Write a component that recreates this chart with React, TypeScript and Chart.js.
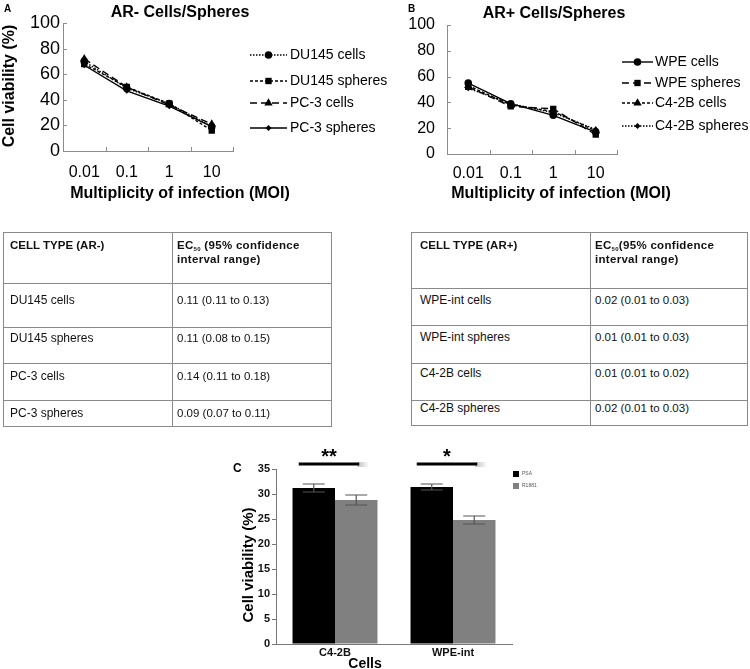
import React, { useEffect, useRef } from 'react';
import { Chart, registerables } from 'chart.js';

Chart.register(...registerables);

const FONT = '"Liberation Sans", Arial, Helvetica, sans-serif';

// ---------- DATA ----------
const moiLabels = ['0.01', '0.1', '1', '10'];

const arNegNames = ['DU145 cells', 'DU145 spheres', 'PC-3 cells', 'PC-3 spheres'];
const du145Cells = [70, 49, 37, 19];
const du145Spheres = [68, 50, 37, 16];
const pc3Cells = [72, 50, 36, 21];
const pc3Spheres = [67, 47, 35, 19];

const arPosNames = ['WPE cells', 'WPE spheres', 'C4-2B cells', 'C4-2B spheres'];
const wpeCells = [55, 39, 30, 17];
const wpeSpheres = [52, 37, 35, 15];
const c42bCells = [53, 38, 33, 18];
const c42bSpheres = [51, 39, 32, 19];

const negTypes = ['DU145 cells', 'DU145 spheres', 'PC-3 cells', 'PC-3 spheres'];
const negEC50 = ['0.11 (0.11 to 0.13)', '0.11 (0.08 to 0.15)', '0.14 (0.11 to 0.18)', '0.09 (0.07 to 0.11)'];
const posTypes = ['WPE-int cells', 'WPE-int spheres', 'C4-2B cells', 'C4-2B spheres'];
const posEC50 = ['0.02 (0.01 to 0.03)', '0.01 (0.01 to 0.03)', '0.01 (0.01 to 0.02)', '0.02 (0.01 to 0.03)'];

const barCategories = ['C4-2B', 'WPE-int'];
const psaValues = [31.2, 31.4];
const psaErrors = [0.8, 0.6];
const r1881Values = [28.8, 24.8];
const r1881Errors = [1.0, 0.8];
const significance = ['**', '*'];

// ---------- helpers ----------
function drawMarker(ctx: CanvasRenderingContext2D, style: string, x: number, y: number, r: number) {
  ctx.beginPath();
  if (style === 'circle') {
    ctx.arc(x, y, r, 0, Math.PI * 2);
  } else if (style === 'rect') {
    const s = r * Math.SQRT1_2;
    ctx.rect(x - s, y - s, 2 * s, 2 * s);
  } else if (style === 'triangle') {
    let a = 0;
    ctx.moveTo(x + Math.sin(a) * r, y - Math.cos(a) * r);
    a += (Math.PI * 2) / 3;
    ctx.lineTo(x + Math.sin(a) * r, y - Math.cos(a) * r);
    a += (Math.PI * 2) / 3;
    ctx.lineTo(x + Math.sin(a) * r, y - Math.cos(a) * r);
    ctx.closePath();
  } else {
    ctx.moveTo(x, y - r);
    ctx.lineTo(x + r, y);
    ctx.lineTo(x, y + r);
    ctx.lineTo(x - r, y);
    ctx.closePath();
  }
  ctx.fillStyle = '#000';
  ctx.fill();
}

const innerTicksPlugin = {
  id: 'innerTicks',
  afterDraw(chart: any) {
    const { ctx, chartArea: a, scales } = chart;
    const x = scales.x;
    const y = scales.y;
    ctx.save();
    ctx.strokeStyle = '#8c8c8c';
    ctx.lineWidth = 1;
    ctx.beginPath();
    y.ticks.forEach((_t: any, i: number) => {
      const py = Math.round(y.getPixelForTick(i)) + 0.5;
      ctx.moveTo(a.left, py);
      ctx.lineTo(a.left + 4, py);
    });
    const n = x.ticks.length;
    const step = x.getPixelForValue(1) - x.getPixelForValue(0);
    for (let i = 0; i < n; i++) {
      const px = Math.round(x.getPixelForValue(i) + step / 2) + 0.5;
      ctx.moveTo(px, a.bottom);
      ctx.lineTo(px, a.bottom - 4);
    }
    ctx.stroke();
    ctx.restore();
  },
};

const lineLegendPlugin = {
  id: 'lineLegend',
  afterDraw(chart: any, _args: any, opts: any) {
    const { ctx } = chart;
    chart.data.datasets.forEach((ds: any, i: number) => {
      const y = opts.ys[i];
      ctx.save();
      ctx.strokeStyle = '#000';
      ctx.lineWidth = 1.4;
      ctx.setLineDash(ds.borderDash || []);
      ctx.beginPath();
      ctx.moveTo(opts.x0, y);
      ctx.lineTo(opts.x1, y);
      ctx.stroke();
      ctx.setLineDash([]);
      drawMarker(ctx, ds.pointStyle, (opts.x0 + opts.x1) / 2, y, ds.pointRadius);
      ctx.fillStyle = '#000';
      ctx.font = `14px ${FONT}`;
      ctx.textBaseline = 'middle';
      ctx.textAlign = 'left';
      ctx.fillText(ds.label, opts.textX, y);
      ctx.restore();
    });
  },
};

const errorBarPlugin = {
  id: 'errorBars',
  afterDatasetsDraw(chart: any) {
    const { ctx, scales } = chart;
    const y = scales.y;
    chart.data.datasets.forEach((ds: any, di: number) => {
      const meta = chart.getDatasetMeta(di);
      meta.data.forEach((bar: any, j: number) => {
        const v = ds.data[j];
        const e = ds.errors[j];
        const yt = y.getPixelForValue(v + e);
        const yb = y.getPixelForValue(v - e);
        const cx = bar.x;
        ctx.save();
        ctx.strokeStyle = '#555';
        ctx.lineWidth = 1.2;
        ctx.beginPath();
        ctx.moveTo(cx, yt);
        ctx.lineTo(cx, yb);
        ctx.moveTo(cx - 11, yt);
        ctx.lineTo(cx + 11, yt);
        ctx.moveTo(cx - 11, yb);
        ctx.lineTo(cx + 11, yb);
        ctx.stroke();
        ctx.restore();
      });
    });
  },
};

const sigPlugin = {
  id: 'sigMarks',
  afterDraw(chart: any, _args: any, opts: any) {
    const { ctx } = chart;
    const m0 = chart.getDatasetMeta(0);
    const m1 = chart.getDatasetMeta(1);
    opts.marks.forEach((txt: string, j: number) => {
      const x0 = m0.data[j].x - 15;
      const x1 = m1.data[j].x + 3;
      ctx.save();
      const g = ctx.createLinearGradient(x1 - 2, 0, x1 + 10, 0);
      g.addColorStop(0, 'rgba(0,0,0,0.25)');
      g.addColorStop(1, 'rgba(0,0,0,0)');
      ctx.strokeStyle = g;
      ctx.lineWidth = 5;
      ctx.beginPath();
      ctx.moveTo(x1 - 2, opts.lineY + 0.5);
      ctx.lineTo(x1 + 10, opts.lineY + 0.5);
      ctx.stroke();
      ctx.strokeStyle = '#000';
      ctx.lineWidth = 3;
      ctx.beginPath();
      ctx.moveTo(x0, opts.lineY);
      ctx.lineTo(x1, opts.lineY);
      ctx.stroke();
      ctx.fillStyle = '#000';
      ctx.font = `bold 20px ${FONT}`;
      ctx.textAlign = 'center';
      ctx.textBaseline = 'middle';
      ctx.fillText(txt, (x0 + x1) / 2, opts.starY);
      ctx.restore();
    });
  },
};

const boxLegendPlugin = {
  id: 'boxLegend',
  afterDraw(chart: any, _args: any, opts: any) {
    const { ctx } = chart;
    chart.data.datasets.forEach((ds: any, i: number) => {
      const y = opts.y0 + i * opts.dy;
      ctx.save();
      ctx.fillStyle = ds.backgroundColor;
      ctx.fillRect(opts.x, y, 6, 6);
      ctx.fillStyle = '#555';
      ctx.font = `5px ${FONT}`;
      ctx.textBaseline = 'middle';
      ctx.fillText(ds.label.toUpperCase(), opts.x + 9, y + 3);
      ctx.restore();
    });
  },
};

type Style = { dash: number[]; point: string; r: number };
const negStyles: Style[] = [
  { dash: [1.5, 1.5], point: 'circle', r: 3.8 },
  { dash: [3, 2], point: 'rect', r: 4.5 },
  { dash: [7, 4], point: 'triangle', r: 4.8 },
  { dash: [], point: 'rectRot', r: 3 },
];
const posStyles: Style[] = [
  { dash: [], point: 'circle', r: 3.8 },
  { dash: [7, 4], point: 'rect', r: 4.5 },
  { dash: [3, 2], point: 'triangle', r: 4.8 },
  { dash: [1.5, 1.5], point: 'rectRot', r: 3 },
];

function lineConfig(o: any) {
  return {
    type: 'line',
    data: {
      labels: moiLabels,
      datasets: o.series.map((d: number[], i: number) => ({
        label: o.names[i],
        data: d,
        borderColor: '#000',
        backgroundColor: '#000',
        borderWidth: 1.4,
        borderDash: o.styles[i].dash,
        pointStyle: o.styles[i].point,
        pointRadius: o.styles[i].r,
        pointBorderWidth: 0,
        pointBackgroundColor: '#000',
        tension: 0,
        fill: false,
      })),
    },
    options: {
      responsive: false,
      animation: false,
      devicePixelRatio: 1,
      layout: { padding: { left: 0, top: o.area.top, right: o.W - o.area.right, bottom: 0 } },
      plugins: {
        legend: { display: false },
        tooltip: { enabled: false },
        title: { display: false },
        lineLegend: o.legend,
      },
      scales: {
        x: {
          offset: true,
          grid: { display: false, drawTicks: false },
          border: { color: '#8c8c8c', width: 1 },
          ticks: { color: '#000', padding: o.xPad, font: { family: FONT, size: 16 }, maxRotation: 0, autoSkip: false },
          afterFit: (s: any) => { s.height = o.H - o.area.bottom; },
        },
        y: {
          min: 0,
          max: 100,
          grid: { display: false, drawTicks: false },
          border: { color: '#8c8c8c', width: 1 },
          ticks: { stepSize: 20, color: '#000', padding: o.yPad, font: { family: FONT, size: o.yFont } },
          afterFit: (s: any) => { s.width = o.area.left; },
        },
      },
    },
    plugins: [innerTicksPlugin, lineLegendPlugin],
  };
}

function barConfig() {
  const W = 330, H = 224;
  const area = { left: 51, right: 287, top: 24, bottom: 199 };
  return {
    type: 'bar',
    data: {
      labels: barCategories,
      datasets: [
        { label: 'PSA', data: psaValues, errors: psaErrors, backgroundColor: '#000000' },
        { label: 'R1881', data: r1881Values, errors: r1881Errors, backgroundColor: '#808080' },
      ],
    },
    options: {
      responsive: false,
      animation: false,
      devicePixelRatio: 1,
      categoryPercentage: 0.72,
      barPercentage: 1,
      layout: { padding: { left: 0, top: area.top, right: W - area.right, bottom: 0 } },
      plugins: {
        legend: { display: false },
        tooltip: { enabled: false },
        sigMarks: { marks: significance, lineY: 19, starY: 12 },
        boxLegend: { x: 288, y0: 26, dy: 12 },
      },
      scales: {
        x: {
          grid: { display: false, drawTicks: false },
          border: { color: '#777', width: 1 },
          ticks: { color: '#111', padding: 2, font: { family: FONT, size: 11, weight: 'bold' }, maxRotation: 0 },
          afterFit: (s: any) => { s.height = H - area.bottom; },
        },
        y: {
          min: 0,
          max: 35,
          grid: { drawOnChartArea: false, drawTicks: true, tickLength: 4, color: '#777' },
          border: { color: '#777', width: 1 },
          ticks: { stepSize: 5, color: '#111', padding: 2, font: { family: FONT, size: 11, weight: 'bold' } },
          afterFit: (s: any) => { s.width = area.left; },
        },
      },
    },
    plugins: [errorBarPlugin, sigPlugin, boxLegendPlugin],
  };
}

function ChartCanvas({ make, left, top, width, height }: any) {
  const ref = useRef<HTMLCanvasElement | null>(null);
  useEffect(() => {
    if (!ref.current) return;
    const chart = new Chart(ref.current, make());
    return () => chart.destroy();
  }, []);
  return (
    <canvas
      ref={ref}
      width={width}
      height={height}
      style={{ position: 'absolute', left, top, width, height }}
    />
  );
}

function Txt({ cx, cy, children, size = 16, bold = true, rotate = false }: any) {
  return (
    <div
      style={{
        position: 'absolute',
        left: cx,
        top: cy,
        transform: `translate(-50%, -50%)${rotate ? ' rotate(-90deg)' : ''}`,
        whiteSpace: 'nowrap',
        fontFamily: FONT,
        fontSize: size,
        fontWeight: bold ? 'bold' : 'normal',
        lineHeight: 1,
        color: '#000',
      }}
    >
      {children}
    </div>
  );
}

function EcTable({ x0, x1, xc, ys, title, ecSpace, types, values, padL, padR, textYs }: any) {
  const line = '#8a8a8a';
  const els: any[] = [];
  ys.forEach((y: number, i: number) => {
    els.push(<div key={'h' + i} style={{ position: 'absolute', left: x0, top: y, width: x1 - x0 + 1, height: 1, background: line }} />);
  });
  [x0, xc, x1].forEach((x: number, i: number) => {
    els.push(<div key={'v' + i} style={{ position: 'absolute', left: x, top: ys[0], width: 1, height: ys[ys.length - 1] - ys[0] + 1, background: line }} />);
  });
  const hdr: any = { position: 'absolute', fontFamily: FONT, fontWeight: 'bold', fontSize: 11.5, lineHeight: '14px', color: '#111', whiteSpace: 'nowrap' };
  els.push(<div key="t1" style={{ ...hdr, left: x0 + padL, top: ys[0] + 6 }}>{title}</div>);
  els.push(
    <div key="t2" style={{ ...hdr, left: xc + padR, top: ys[0] + 6, letterSpacing: 0.3 }}>
      EC<sub style={{ fontSize: 6, lineHeight: 0, verticalAlign: '-2px' }}>50</sub>{ecSpace ? ' ' : ''}(95% confidence
      <br />
      interval range)
    </div>
  );
  types.forEach((t: string, i: number) => {
    els.push(
      <div key={'a' + i} style={{ position: 'absolute', left: x0 + padL, top: textYs[i] - 7, fontFamily: FONT, fontSize: 12, lineHeight: '14px', color: '#111', whiteSpace: 'nowrap' }}>{t}</div>
    );
    els.push(
      <div key={'b' + i} style={{ position: 'absolute', left: xc + padR, top: textYs[i] - 7, fontFamily: FONT, fontSize: 11.5, lineHeight: '14px', color: '#111', whiteSpace: 'nowrap' }}>{values[i]}</div>
    );
  });
  return <>{els}</>;
}

export default function App() {
  const makeA = () =>
    lineConfig({
      names: arNegNames,
      series: [du145Cells, du145Spheres, pc3Cells, pc3Spheres],
      styles: negStyles,
      W: 400,
      H: 185,
      area: { left: 63, right: 233, top: 23, bottom: 151 },
      xPad: 12,
      yPad: 3,
      yFont: 18,
      legend: { x0: 250, x1: 287, textX: 290, ys: [55, 81, 103, 128] },
    });
  const makeB = () =>
    lineConfig({
      names: arPosNames,
      series: [wpeCells, wpeSpheres, c42bCells, c42bSpheres],
      styles: posStyles,
      W: 370,
      H: 185,
      area: { left: 67, right: 237, top: 25, bottom: 154 },
      xPad: 10,
      yPad: 12,
      yFont: 16,
      legend: { x0: 242, x1: 273, textX: 275, ys: [62, 83, 103, 126] },
    });

  return (
    <div style={{ position: 'absolute', left: 0, top: 0, width: 750, height: 669, background: '#fff', overflow: 'hidden' }}>
      <ChartCanvas make={makeA} left={0} top={0} width={400} height={185} />
      <ChartCanvas make={makeB} left={380} top={0} width={370} height={185} />
      <ChartCanvas make={barConfig} left={225} top={445} width={330} height={224} />

      <div style={{ position: 'absolute', left: 4, top: 3, fontFamily: FONT, fontWeight: 'bold', fontSize: 10 }}>A</div>
      <div style={{ position: 'absolute', left: 408, top: 3, fontFamily: FONT, fontWeight: 'bold', fontSize: 10 }}>B</div>
      <div style={{ position: 'absolute', left: 233, top: 461, fontFamily: FONT, fontWeight: 'bold', fontSize: 12 }}>C</div>

      <Txt cx={180} cy={12}>AR- Cells/Spheres</Txt>
      <Txt cx={554} cy={13}>AR+ Cells/Spheres</Txt>
      <Txt cx={9} cy={86} rotate>Cell viability (%)</Txt>
      <Txt cx={180} cy={193}>Multiplicity of infection (MOI)</Txt>
      <Txt cx={561} cy={193}>Multiplicity of infection (MOI)</Txt>

      <EcTable
        x0={3} x1={331} xc={172}
        ys={[232, 283, 327, 363, 400, 426]}
        title="CELL TYPE (AR-)"
        ecSpace
        types={negTypes}
        values={negEC50}
        padL={7}
        padR={5}
        textYs={[300, 338, 376, 413]}
      />
      <EcTable
        x0={411} x1={747} xc={590}
        ys={[232, 288, 325, 363, 400, 425]}
        title="CELL TYPE (AR+)"
        ecSpace={false}
        types={posTypes}
        values={posEC50}
        padL={9}
        padR={5}
        textYs={[300, 337, 373, 408]}
      />

      <Txt cx={247} cy={565} size={15} rotate>Cell viability (%)</Txt>
      <Txt cx={365} cy={663} size={14}>Cells</Txt>
    </div>
  );
}
